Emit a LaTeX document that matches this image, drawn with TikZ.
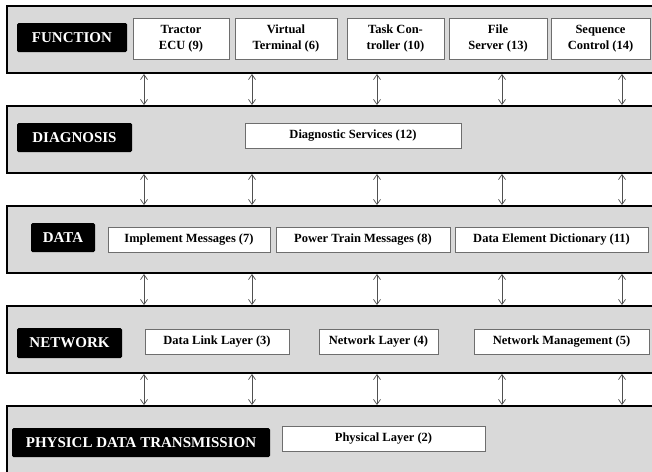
\documentclass[tikz,border=0pt]{standalone}
\usepackage{fontspec}
\setmainfont{Liberation Serif}
\usetikzlibrary{arrows,arrows.meta}
\definecolor{xband}{RGB}{217,217,217}
\definecolor{xline}{RGB}{80,80,80}
\definecolor{xedge}{RGB}{110,110,110}

\begin{document}
\begin{tikzpicture}[x=1pt,y=-1pt,>={Straight Barb[length=5pt,width=7pt]}]
\tikzset{band/.style={rectangle,draw=black,line width=2pt,fill=xband,anchor=north west,minimum width=700pt,inner sep=0pt}}
\tikzset{title/.style={fill=black,text=white,rounded corners=1.5pt,font=\fontsize{15}{17}\selectfont\bfseries,minimum height=29pt,inner sep=0pt}}
\tikzset{unit/.style={fill=white,draw=xedge,line width=0.7pt,font=\fontsize{12.5}{16}\selectfont\bfseries,minimum height=25pt,inner sep=0pt,align=center}}
\tikzset{link/.style={<->,draw=xline,line width=0.7pt}}
\useasboundingbox (0,0) rectangle (652,471);
\clip (0,0) rectangle (652,471);
% layers
\node[band,minimum height=67pt] at (6,5) (fn) {};
\node[band,minimum height=67pt] at (6,105) (diag) {};
\node[band,minimum height=67pt] at (6,205) (data) {};
\node[band,minimum height=67pt] at (6,305) (net) {};
\node[band,minimum height=120pt] at (6,405) (phys) {};
% function
\node[title,minimum width=110pt] at (72,37.5) (fnt) {FUNCTION};
\node[unit,minimum width=96pt,minimum height=41pt] at (181,38.5) (ecu) {Tractor\\ECU (9)};
\node[unit,minimum width=102pt,minimum height=41pt] at (286,38.5) (vt) {Virtual\\Terminal (6)};
\node[unit,minimum width=97pt,minimum height=41pt] at (395.5,38.5) (tc) {Task Con-\\troller (10)};
\node[unit,minimum width=98pt,minimum height=41pt] at (498,38.5) (fs) {File\\Server (13)};
\node[unit,minimum width=99pt,minimum height=41pt] at (600.5,38.5) (sc) {Sequence\\Control (14)};
% diagnosis
\node[title,minimum width=115pt] at (74.5,137.5) (diagt) {DIAGNOSIS};
\node[unit,minimum width=216pt] at (353,135.5) (ds) {Diagnostic Services (12)};
% data
\node[title,minimum width=64pt] at (63,237.5) (datat) {DATA};
\node[unit,minimum width=162pt] at (189,239.5) (im) {Implement Messages (7)};
\node[unit,minimum width=174pt] at (363,239.5) (pt) {Power Train Messages (8)};
\node[unit,minimum width=193pt] at (551.5,239.5) (ded) {Data Element Dictionary (11)};
% network
\node[title,minimum width=105pt,minimum height=30pt] at (69.5,343) (nett) {NETWORK};
\node[unit,minimum width=144pt] at (217,341.5) (dll) {Data Link Layer (3)};
\node[unit,minimum width=119pt] at (378.5,341.5) (nl) {Network Layer (4)};
\node[unit,minimum width=175pt] at (561.5,341.5) (nm) {Network Management (5)};
% physical
\node[title,minimum width=258pt] at (141,442.5) (physt) {PHYSICL DATA TRANSMISSION};
\node[unit,minimum width=203pt] at (383.5,438.5) (pl) {Physical Layer (2)};
% connectors
\foreach \x [count=\i] in {144,252,377,502,622}
  \coordinate (col\i) at (\x,0);
\foreach \a/\b in {fn/diag,diag/data,data/net,net/phys}
  \foreach \i in {1,...,5}
    \draw[link] (\a.south -| col\i) -- (\b.north -| col\i);
\end{tikzpicture}
\end{document}
